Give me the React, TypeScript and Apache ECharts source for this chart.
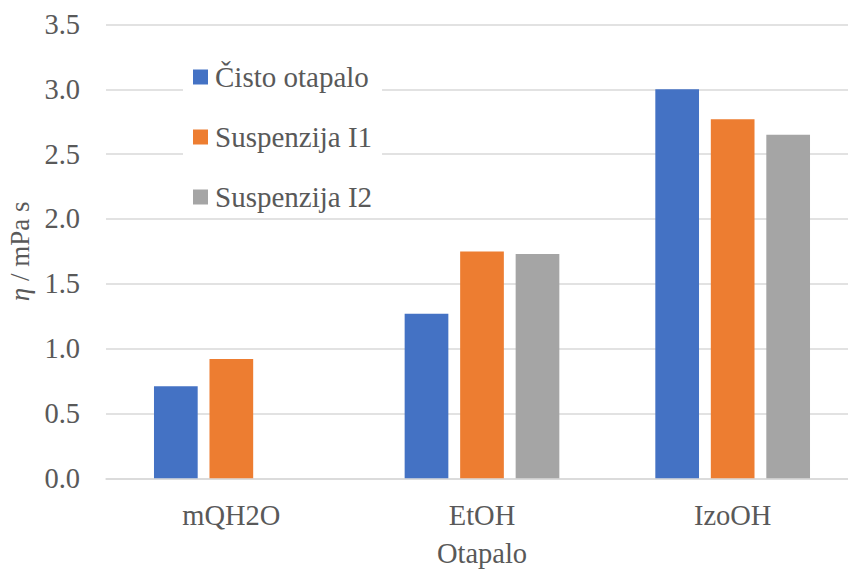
import React, { useEffect, useRef } from "react";
import * as echarts from "echarts";

const categories = ["mQH2O", "EtOH", "IzoOH"];
const seriesNames = ["Čisto otapalo", "Suspenzija I1", "Suspenzija I2"];
const cistoOtapalo = [0.71, 1.27, 3.0];
const suspenzijaI1 = [0.92, 1.75, 2.77];
const suspenzijaI2 = [null, 1.73, 2.65];
const colors = ["#4472C4", "#ED7D31", "#A5A5A5"];

const FONT = "Liberation Serif";
const FS = 28.5;

export default function App() {
  const ref = useRef<HTMLDivElement>(null);
  useEffect(() => {
    if (!ref.current) return;
    const chart = echarts.init(ref.current, null, { renderer: "svg" });
    const data = [cistoOtapalo, suspenzijaI1, suspenzijaI2];
    chart.setOption({
      animation: false,
      backgroundColor: "#ffffff",
      textStyle: { fontFamily: FONT },
      grid: {
        left: 106,
        right: -10,
        top: 24.5,
        bottom: 90.7,
        containLabel: false,
        outerBoundsMode: "none",
      },
      legend: {
        orient: "vertical",
        left: 183,
        top: 62,
        itemWidth: 15,
        itemHeight: 15,
        itemGap: 30,
        padding: [0, 10, 0, 10],
        backgroundColor: "#ffffff",
        icon: "rect",
        data: seriesNames,
        textStyle: { fontFamily: FONT, fontSize: 29, color: "#595959", lineHeight: 30, padding: [0, 0, 0, 2] },
      },
      xAxis: {
        type: "category",
        data: categories,
        name: "Otapalo",
        nameLocation: "middle",
        nameGap: 61,
        nameTextStyle: { fontFamily: FONT, fontSize: FS, color: "#595959" },
        axisLine: { show: true, lineStyle: { color: "#d9d9d9", width: 1.5 } },
        axisTick: { show: false },
        axisLabel: { fontFamily: FONT, fontSize: FS, color: "#595959", margin: 23 },
      },
      yAxis: {
        type: "value",
        min: 0,
        max: 3.5,
        interval: 0.5,
        name: "{i|η} / mPa s",
        nameLocation: "middle",
        nameGap: 69,
        nameRotate: 90,
        nameTextStyle: {
          fontFamily: FONT,
          fontSize: 27,
          color: "#595959",
          rich: {
            i: { fontFamily: FONT, fontSize: 27, color: "#595959", fontStyle: "italic" },
          },
        },
        axisLine: { show: false },
        axisTick: { show: false },
        splitLine: { lineStyle: { color: "#d9d9d9", width: 1.5 } },
        axisLabel: {
          fontFamily: FONT,
          fontSize: FS,
          color: "#595959",
          margin: 26,
          formatter: (v: number) => v.toFixed(1),
        },
      },
      series: seriesNames.map((name, i) => ({
        name,
        type: "bar",
        data: data[i],
        barWidth: 43.7,
        barGap: "27%",
        itemStyle: { color: colors[i] },
      })),
    });
    return () => chart.dispose();
  }, []);
  return <div ref={ref} style={{ width: 848, height: 569, position: "absolute", left: 0, top: 0 }} />;
}
